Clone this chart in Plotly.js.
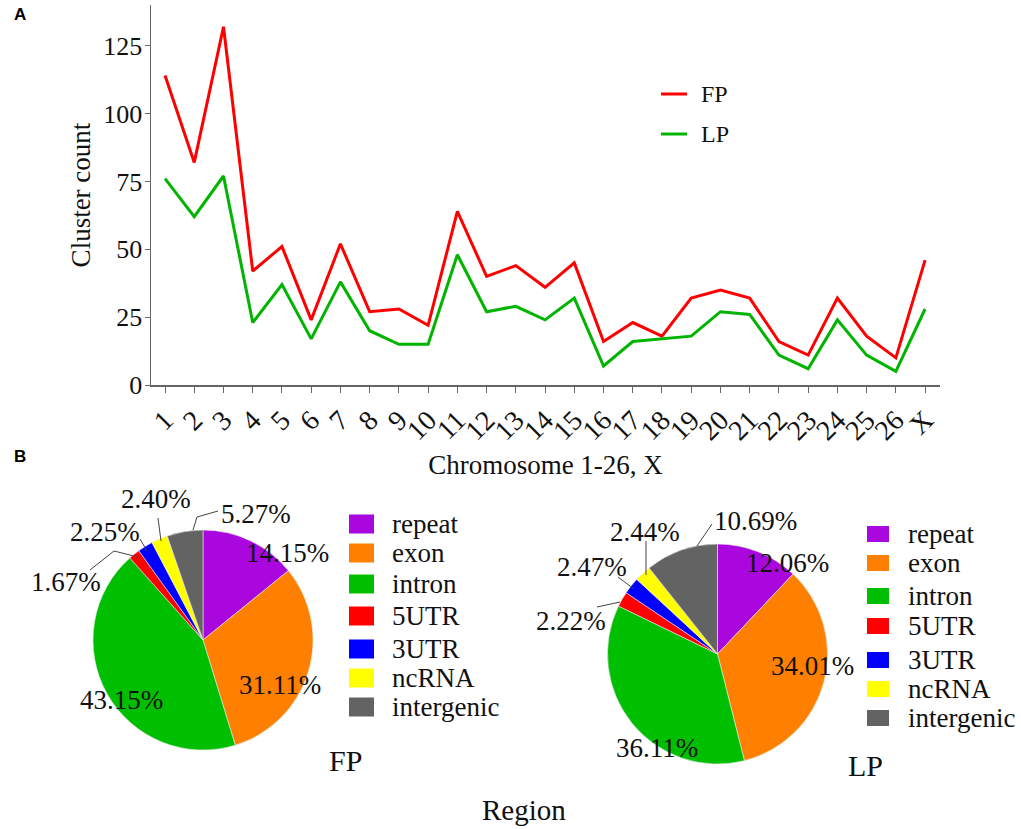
<!DOCTYPE html>
<html>
<head>
<meta charset="utf-8">
<script src="https://cdn.plot.ly/plotly-3.0.1.min.js"></script>
<style>
  html, body { margin: 0; padding: 0; background: #fff; }
</style>
</head>
<body>
<div id="chart" style="width:1021px;height:829px"></div>
<script>
const chromosomes = ["1","2","3","4","5","6","7","8","9","10","11","12","13","14","15","16","17","18","19","20","21","22","23","24","25","26","X"];
const fpCounts = [114,82,132,42,51,24,52,27,28,22,64,40,44,36,45,16,23,18,32,35,32,16,11,32,18,10,46];
const lpCounts = [76,62,77,23,37,17,38,20,15,15,48,27,29,24,32,7,16,17,18,27,26,11,6,24,11,5,28];

const regions = ["repeat","exon","intron","5UTR","3UTR","ncRNA","intergenic"];
const fpShares = [14.15,31.11,43.15,1.67,2.25,2.40,5.27];
const lpShares = [12.06,34.01,36.11,2.22,2.47,2.44,10.69];

const regionColors = ["#aa07de","#ff8000","#00bf00","#ff0000","#0000ff","#ffff00","#636363"];
const SERIF = "Liberation Serif";
const INK = "#111";
const AXIS_GREY = "#666";
const FP_RED = "#ff0000";
const LP_GREEN = "#00b400";

// page pixels -> paper fractions
const W = 1021, H = 829;
const px = (x) => x / W;
const py = (y) => 1 - y / H;

const fpLabelPos = [[287,553],[280,685],[121,700],[66,582],[105,532],[156,499],[256,514]];
const lpLabelPos = [[787,563],[812,666],[657,748],[571,621],[592,567],[645,532],[755,521]];

const leaders = [
  [[193,530],[197,517],[218,511]],
  [[161,541],[158,518]],
  [[147,551],[140,539]],
  [[138,557],[114,551],[90,570]],
  [[697,546],[712,524]],
  [[646,575],[646,541]],
  [[634,589],[618,577]],
  [[620,602],[597,607]]
];

const fpKeyRows = [524,553,584,616,649,678,707];
const lpKeyRows = [534,563,596,626,660,689,718];

const pieTrace = (values, name, x0, x1, y0, y1) => ({
  type: "pie",
  name: name,
  labels: regions,
  values: values,
  sort: false,
  direction: "clockwise",
  rotation: 0,
  textinfo: "none",
  hoverinfo: "label+percent",
  showlegend: false,
  automargin: false,
  marker: { colors: regionColors, line: { color: "#e8e8e8", width: 0.6 } },
  domain: { x: [px(x0), px(x1)], y: [py(y1), py(y0)] }
});

const data = [
  {
    x: chromosomes, y: fpCounts, type: "scatter", mode: "lines", name: "FP",
    showlegend: false,
    line: { color: FP_RED, width: 3 }
  },
  {
    x: chromosomes, y: lpCounts, type: "scatter", mode: "lines", name: "LP",
    showlegend: false,
    line: { color: LP_GREEN, width: 3 }
  },
  pieTrace(fpShares, "FP", 93, 313, 530, 750),
  pieTrace(lpShares, "LP", 607, 828, 544, 764)
];

const textNote = (text, x, y, size, extra) => Object.assign({
  text: text,
  xref: "paper", yref: "paper",
  x: px(x), y: py(y),
  xanchor: "center", yanchor: "middle",
  showarrow: false,
  font: { family: SERIF, size: size, color: INK }
}, extra || {});

const annotations = [
  textNote("<b>A</b>", 20, 15, 17, { font: { family: "Liberation Sans", size: 17, color: "#000" } }),
  textNote("<b>B</b>", 20, 457, 17, { font: { family: "Liberation Sans", size: 17, color: "#000" } }),
  textNote("FP", 345, 760, 30),
  textNote("LP", 865, 765, 30),
  textNote("Region", 524, 810, 29)
];
const shapes = [];

fpShares.forEach((v, i) => {
  annotations.push(textNote(v.toFixed(2) + "%", fpLabelPos[i][0], fpLabelPos[i][1], 27));
});
lpShares.forEach((v, i) => {
  annotations.push(textNote(v.toFixed(2) + "%", lpLabelPos[i][0], lpLabelPos[i][1], 27));
});

leaders.forEach((pts) => {
  shapes.push({
    type: "path", xref: "paper", yref: "paper",
    path: pts.map((p, i) => (i ? "L" : "M") + px(p[0]) + "," + py(p[1])).join(" "),
    line: { color: "#444", width: 1 }
  });
});

const addKey = (rows, swatchX0, swatchX1, swatchH, textX) => {
  regions.forEach((name, i) => {
    shapes.push({
      type: "rect", xref: "paper", yref: "paper",
      x0: px(swatchX0), x1: px(swatchX1),
      y0: py(rows[i] + swatchH / 2), y1: py(rows[i] - swatchH / 2),
      fillcolor: regionColors[i],
      line: { width: 0 }
    });
    annotations.push(textNote(name, textX, rows[i], 27, { xanchor: "left" }));
  });
};
addKey(fpKeyRows, 349, 374, 19, 390);
addKey(lpKeyRows, 867, 889, 16, 906);

// line key for panel A
[["FP", FP_RED, 94], ["LP", LP_GREEN, 134]].forEach(([name, color, row]) => {
  shapes.push({
    type: "line", xref: "paper", yref: "paper",
    x0: px(661), x1: px(687), y0: py(row), y1: py(row),
    line: { color: color, width: 3 }
  });
  annotations.push(textNote(name, 699, row, 24, { xanchor: "left" }));
});

const layout = {
  width: W,
  height: H,
  margin: { t: 0, r: 0, b: 0, l: 0 },
  paper_bgcolor: "#fff",
  plot_bgcolor: "#fff",
  font: { family: SERIF, color: INK },
  showlegend: false,
  xaxis: {
    domain: [px(151), px(940)],
    type: "category",
    range: [-0.48, 26.51],
    tickmode: "array",
    tickvals: chromosomes,
    ticktext: chromosomes,
    tickangle: -45,
    tickfont: { family: SERIF, size: 28, color: INK },
    ticks: "outside",
    ticklen: 6,
    tickcolor: AXIS_GREY,
    showline: true,
    linecolor: AXIS_GREY,
    linewidth: 1.5,
    showgrid: false,
    zeroline: false,
    title: { text: "Chromosome 1-26, X", font: { family: SERIF, size: 27, color: INK }, standoff: 10 }
  },
  yaxis: {
    domain: [py(385), py(5)],
    range: [0, 140],
    tickmode: "array",
    tickvals: [0,25,50,75,100,125],
    tickfont: { family: SERIF, size: 26, color: INK },
    ticks: "outside",
    ticklen: 5,
    ticklabelstandoff: -3,
    tickcolor: AXIS_GREY,
    showline: true,
    linecolor: AXIS_GREY,
    linewidth: 1.5,
    showgrid: false,
    zeroline: false,
    title: { text: "Cluster count", font: { family: SERIF, size: 27, color: INK }, standoff: 5 }
  },
  shapes: shapes,
  annotations: annotations
};

Plotly.newPlot("chart", data, layout, { displayModeBar: false, staticPlot: true });
</script>
</body>
</html>
